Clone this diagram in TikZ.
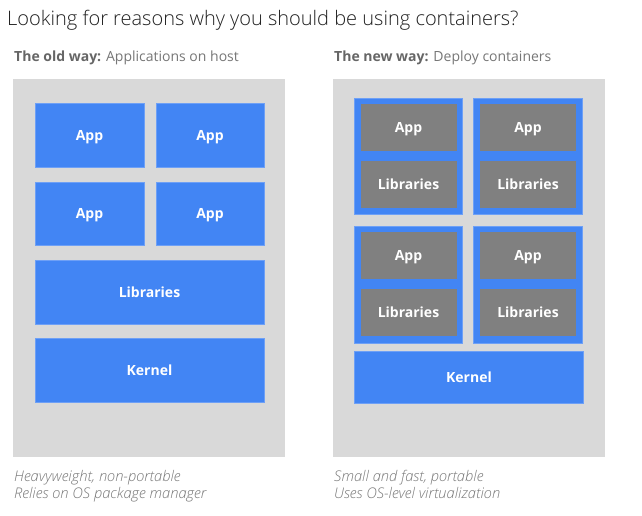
\documentclass[tikz,border=0pt]{standalone}
\usepackage{fontspec}
\setmainfont{Open Sans}
\newfontfamily\lightfont{Open Sans Light}
\definecolor{gblue}{HTML}{4285F4}
\definecolor{gblueedge}{HTML}{6EA0F6}
\definecolor{boxgrey}{HTML}{808080}
\definecolor{panelgrey}{HTML}{D9D9D9}
\definecolor{headgrey}{HTML}{666666}
\definecolor{subgrey}{HTML}{777777}
\definecolor{titleink}{HTML}{212121}
\tikzset{
  panel/.style={fill=panelgrey, draw=none},
  boxlabel/.style={text=white, font=\fontsize{14}{16}\selectfont\bfseries,
    text height=10pt, text depth=0pt},
  bluebox/.style={fill=gblue, draw=gblueedge, line width=0.6pt, inner sep=0pt, boxlabel},
  container/.style={fill=gblue, draw=gblueedge, line width=0.6pt, inner sep=0pt},
  greybox/.style={fill=boxgrey, draw=none, inner sep=0pt, boxlabel,
    minimum width=96pt, minimum height=47pt},
  heading/.style={anchor=base west, inner sep=0pt, text=subgrey,
    font=\fontsize{14}{16}\selectfont},
  caption/.style={anchor=base west, inner sep=0pt, text=subgrey,
    font=\fontsize{14.7}{17}\lightfont\itshape},
}
\begin{document}
\begin{tikzpicture}[x=1pt, y=-1pt]
\path[use as bounding box, fill=white] (0,0) rectangle (642,515);

% title
\node[anchor=base west, inner sep=0pt, text=titleink,
      font=\fontsize{20}{24}\lightfont] (title) at (7,25)
  {Looking for reasons why you should be using containers?};

% column headings
\node[heading] (oldhead) at (14,61) {\textcolor{headgrey}{\bfseries The old way:} Applications on host};
\node[heading] (newhead) at (334,61) {\textcolor{headgrey}{\bfseries The new way:} Deploy containers};

% background panels
\path[panel] (13,79) rectangle (285,457);
\path[panel] (333,79) rectangle (605,457);

% old way: applications sharing the host
\node[bluebox, minimum width=109pt, minimum height=64pt] (app1) at (89.5,135) {App};
\node[bluebox, minimum width=108pt, minimum height=64pt] (app2) at (210,135) {App};
\node[bluebox, minimum width=109pt, minimum height=63pt] (app3) at (89.5,213.5) {App};
\node[bluebox, minimum width=108pt, minimum height=63pt] (app4) at (210,213.5) {App};
\node[bluebox, minimum width=229pt, minimum height=64pt] (libs) at (149.5,292) {Libraries};
\node[bluebox, minimum width=229pt, minimum height=64pt] (kernel) at (149.5,370) {Kernel};

% new way: self-contained containers
\node[container, minimum width=108pt, minimum height=116pt] (c1) at (408,156) {};
\node[container, minimum width=109pt, minimum height=116pt] (c2) at (527.5,156) {};
\node[container, minimum width=108pt, minimum height=117pt] (c3) at (408,284.5) {};
\node[container, minimum width=109pt, minimum height=117pt] (c4) at (527.5,284.5) {};

\node[greybox] (c1app) at (408.5,127) {App};
\node[greybox] (c1lib) at (408.5,184) {Libraries};
\node[greybox] (c2app) at (528,127) {App};
\node[greybox] (c2lib) at (528,184) {Libraries};
\node[greybox] (c3app) at (408.5,255.5) {App};
\node[greybox] (c3lib) at (408.5,312) {Libraries};
\node[greybox] (c4app) at (528,255.5) {App};
\node[greybox] (c4lib) at (528,312) {Libraries};

\node[bluebox, minimum width=229pt, minimum height=52pt] (kernel2) at (469,377) {Kernel};

% captions
\node[caption] (oldcap1) at (14,481) {Heavyweight, non-portable};
\node[caption] (oldcap2) at (14,498) {Relies on OS package manager};
\node[caption] (newcap1) at (334,481) {Small and fast, portable};
\node[caption] (newcap2) at (334,498) {Uses OS-level virtualization};
\end{tikzpicture}
\end{document}
